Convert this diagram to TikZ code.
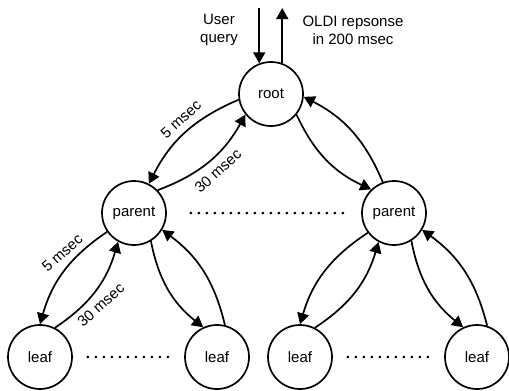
\documentclass[tikz,border=0pt]{standalone}
\usepackage{fontspec}
\setmainfont{Liberation Sans}
\usetikzlibrary{arrows.meta}

\begin{document}
\begin{tikzpicture}[->, >={Triangle[length=11pt,width=12pt]}, x=1pt, y=-1pt,
        line width=1.7pt, font=\fontsize{15}{18}\selectfont,
        server/.style={circle, draw, minimum size=64pt, inner sep=0pt},
        lbl/.style={rotate=42, inner sep=7pt},
        dotrow/.style={-, line width=3pt, line cap=round, dash pattern=on 0pt off 8pt}]
                \useasboundingbox (0,0) rectangle (509,391);
                \node[server] (root) at (271,94) {root};
                \node[server] (lp) at (134,213) {parent};
                \node[server] (rp) at (394,213) {parent};
                \node[server] (l1) at (40,357) {leaf};
                \node[server] (l2) at (217,357) {leaf};
                \node[server] (l3) at (300,357) {leaf};
                \node[server] (l4) at (477,357) {leaf};
                \node[align=center] (query) at (219,30) {User\\query};
                \node[align=center] (resp) at (353,30) {OLDI repsonse\\in 200 msec};
                \coordinate (qin) at (root.111 |- 0,8);
                \coordinate (rout) at (root.70 |- 0,8);
                \path
                    (qin) edge (root.111)
                    (root.70) edge (rout);
                % root and parents
                \path
                    (root.190) edge[bend right=20] node[lbl, pos=0.45, anchor=south] {5 msec} (lp.63)
                    (lp.44) edge[bend right=20] node[lbl, pos=0.5, anchor=north] {30 msec} (root.219)
                    (root.321) edge[bend right=20] (rp.134)
                    (rp.110) edge[bend right=20] (root.355);
                % parents and leaves
                \path
                    (lp.215) edge[bend right=20] node[lbl, pos=0.4, anchor=south] {5 msec} (l1.90)
                    (l1.63) edge[bend right=20] node[lbl, pos=0.45, anchor=north] {30 msec} (lp.241)
                    (lp.301) edge[bend right=20] (l2.115)
                    (l2.76) edge[bend right=20] (lp.329)
                    (rp.217) edge[bend right=20] (l3.90)
                    (l3.63) edge[bend right=20] (rp.242)
                    (rp.302) edge[bend right=20] (l4.115)
                    (l4.72) edge[bend right=20] (rp.329);
                \draw[dotrow] ([xshift=24pt]lp.east) -- ([xshift=-12pt]rp.west);
                \draw[dotrow] ([xshift=15pt]l1.east) -- ([xshift=-16pt]l2.west);
                \draw[dotrow] ([xshift=15pt]l3.east) -- ([xshift=-16pt]l4.west);
            \end{tikzpicture}
\end{document}
